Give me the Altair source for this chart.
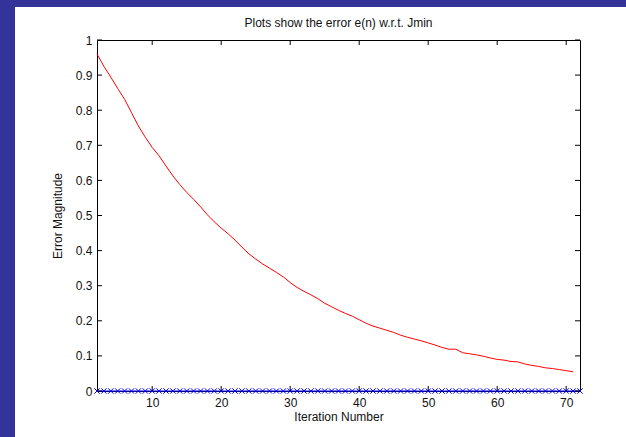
import altair as alt
import pandas as pd

# Iterations of the adaptive filter and the error magnitude relative to Jmin
iterations = list(range(2, 72))
error_values = [
    0.960, 0.925, 0.894, 0.862, 0.831, 0.793, 0.755, 0.723, 0.694, 0.670,
    0.641, 0.613, 0.588, 0.566, 0.546, 0.525, 0.502, 0.482, 0.464, 0.448,
    0.430, 0.410, 0.391, 0.376, 0.362, 0.350, 0.338, 0.325, 0.309, 0.295,
    0.284, 0.274, 0.263, 0.250, 0.240, 0.230, 0.221, 0.213, 0.203, 0.193,
    0.185, 0.179, 0.173, 0.167, 0.159, 0.153, 0.148, 0.143, 0.137, 0.131,
    0.124, 0.119, 0.119, 0.109, 0.106, 0.103, 0.099, 0.094, 0.090, 0.088,
    0.084, 0.083, 0.077, 0.073, 0.070, 0.066, 0.064, 0.061, 0.058, 0.055,
]

# Reference level (zero error) drawn with x markers
ref_iterations = list(range(2, 73))
ref_values = [0.0] * len(ref_iterations)

x_ticks = [10, 20, 30, 40, 50, 60, 70]
y_ticks = [0, 0.1, 0.2, 0.3, 0.4, 0.5, 0.6, 0.7, 0.8, 0.9, 1]

W, H = 483, 351
FONT = "Liberation Sans"
PAGE_BLUE = "#333399"

err_df = pd.DataFrame({"n": iterations, "e": error_values})
ref_df = pd.DataFrame({"n": ref_iterations, "e": ref_values})
xt_df = pd.DataFrame({"n": x_ticks})
yt_df = pd.DataFrame({"e": y_ticks})

x_scale = alt.Scale(domain=[2, 72], nice=False, zero=False)
y_scale = alt.Scale(domain=[0, 1], nice=False)

x_axis = alt.Axis(values=x_ticks, title="Iteration Number", tickSize=0,
                  domain=False, grid=False, labelPadding=6, titlePadding=3,
                  labelFontSize=12, titleFontSize=12, labelFont=FONT,
                  titleFont=FONT, titleFontWeight="normal",
                  labelColor="#111", titleColor="#111")
y_axis = alt.Axis(values=y_ticks, title="Error Magnitude", tickSize=0,
                  domain=False, grid=False, labelPadding=5, titlePadding=11,
                  labelFontSize=12, titleFontSize=12, labelFont=FONT,
                  titleFont=FONT, titleFontWeight="normal",
                  labelColor="#111", titleColor="#111",
                  labelExpr="datum.value == 0 ? '0' : datum.value == 1 ? '1' : format(datum.value, '.1f')")

X = lambda: alt.X("n:Q", scale=x_scale, axis=x_axis)
Y = lambda: alt.Y("e:Q", scale=y_scale, axis=y_axis)

# Blue page edges around the white figure
edge = alt.Data(values=[{}])
left_strip = alt.Chart(edge).mark_rect(color=PAGE_BLUE).encode(
    x=alt.value(-97), x2=alt.value(-82), y=alt.value(-40), y2=alt.value(H + 46))
top_strip = alt.Chart(edge).mark_rect(color=PAGE_BLUE).encode(
    x=alt.value(-97), x2=alt.value(W + 46), y=alt.value(-40), y2=alt.value(-33))

err_line = alt.Chart(err_df).mark_line(color="#ff0000", strokeWidth=1).encode(x=X(), y=Y())

ref_line = alt.Chart(ref_df).mark_line(color="#0000ff", strokeWidth=1).encode(x=X(), y=Y())
ref_pts = alt.Chart(ref_df).mark_point(
    shape="M-1,-1L1,1M-1,1L1,-1", color="#0000ff", size=28, strokeWidth=1, filled=False, opacity=1
).encode(x=X(), y=Y())

# Inward tick marks on all four sides of the frame
tick_len = 5
bottom_ticks = alt.Chart(xt_df).mark_rule(color="black").encode(
    x=X(), y=alt.value(H), y2=alt.value(H - tick_len))
top_ticks = alt.Chart(xt_df).mark_rule(color="black").encode(
    x=X(), y=alt.value(0), y2=alt.value(tick_len))
left_ticks = alt.Chart(yt_df).mark_rule(color="black").encode(
    y=Y(), x=alt.value(0), x2=alt.value(tick_len))
right_ticks = alt.Chart(yt_df).mark_rule(color="black").encode(
    y=Y(), x=alt.value(W), x2=alt.value(W - tick_len))

chart = alt.layer(
    left_strip, top_strip, err_line, ref_line, ref_pts,
    bottom_ticks, top_ticks, left_ticks, right_ticks
).properties(
    width=W,
    height=H,
    background="white",
    padding={"left": 97, "top": 40, "right": 46, "bottom": 46},
    autosize=alt.AutoSizeParams(type="none"),
    title=alt.TitleParams("Plots show the error e(n) w.r.t. Jmin", fontSize=12,
                          font=FONT, fontWeight="normal", color="#111",
                          anchor="middle", frame="group", offset=-30),
).configure_view(stroke="black", strokeWidth=1)

chart.save("out.html", embed_options={"renderer": "svg", "actions": False})
